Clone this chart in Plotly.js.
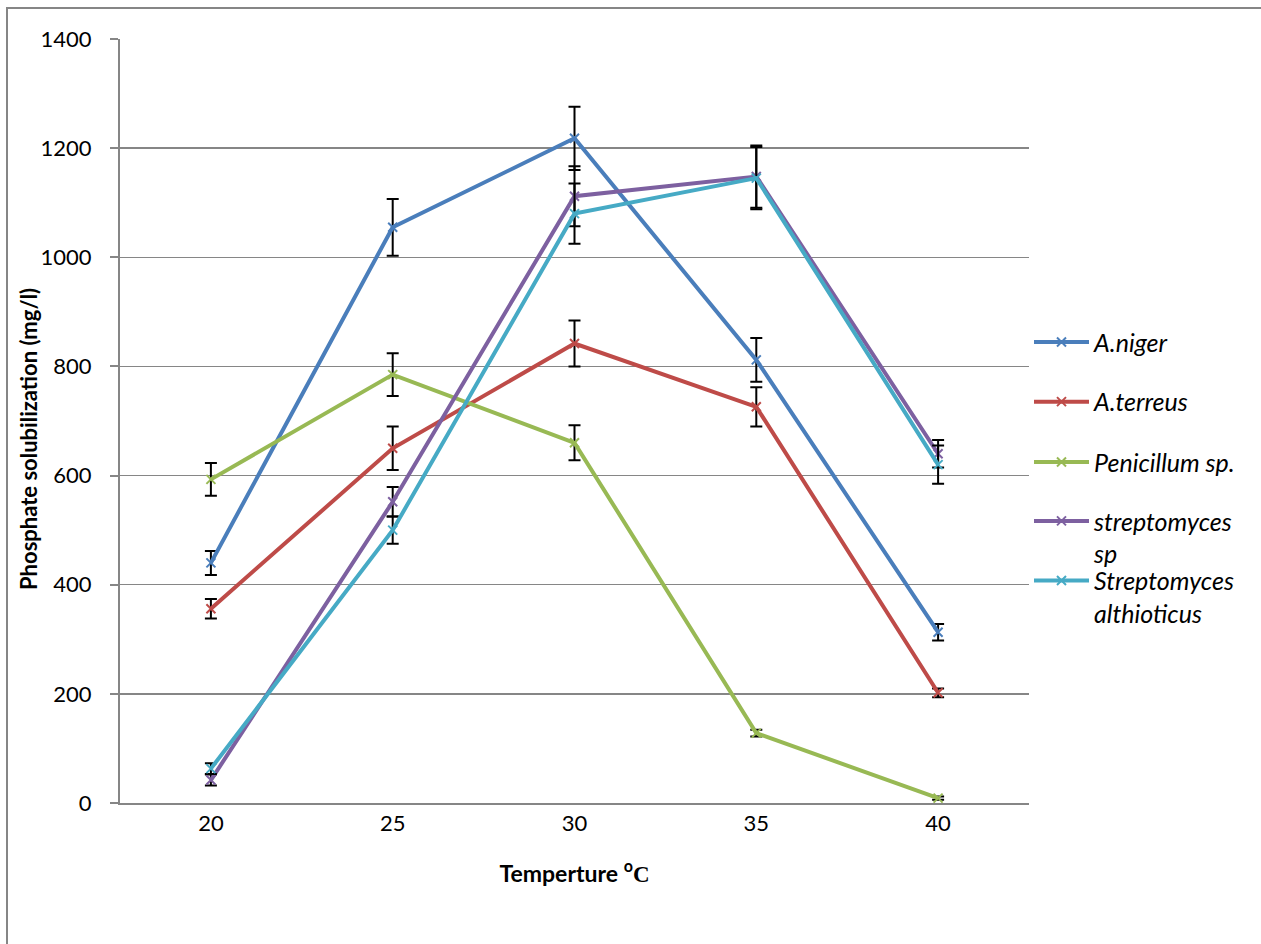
<!DOCTYPE html>
<html>
<head>
<meta charset="utf-8">
<script src="https://cdn.plot.ly/plotly-3.0.1.min.js"></script>
<style>
  html, body { margin: 0; padding: 0; background: #ffffff; }
  #chart { width: 1261px; height: 944px; }
</style>
</head>
<body>
<div id="chart"></div>
<script>
// Categories (temperature, °C)
const temperatures = ["20", "25", "30", "35", "40"];

// Series names
const seriesNames = ["A.niger", "A.terreus", "Penicillum sp.", "streptomyces<br>sp", "Streptomyces<br>althioticus"];

// Series values (mg/l)
const aniger      = [440, 1055, 1218, 812, 313];
const aterreus    = [356, 650, 842, 726, 202];
const penicillum  = [593, 785, 660, 128, 9];
const streptoSp   = [42, 552, 1112, 1148, 640];
const streptoAlth = [63, 500, 1080, 1145, 620];

// Error bar half-widths (mg/l)
const anigerErr      = [22, 52, 58, 40, 15];
const aterreusErr    = [18, 40, 42, 36, 8];
const penicillumErr  = [30, 39, 32, 6, 3];
const streptoSpErr   = [10, 27, 55, 57, 25];
const streptoAlthErr = [10, 25, 55, 57, 35];

// Y axis ticks
const yTicks = [0, 200, 400, 600, 800, 1000, 1200, 1400];

const colors = ["#4A7EBB", "#BE4B48", "#98B954", "#7D60A0", "#46AAC5"];
const values = [aniger, aterreus, penicillum, streptoSp, streptoAlth];
const errs = [anigerErr, aterreusErr, penicillumErr, streptoSpErr, streptoAlthErr];
const legendIds = ["legend", "legend2", "legend3", "legend4", "legend5"];
const legendY = [0.603, 0.525, 0.446, 0.348, 0.270];

const FONT = "Lato, 'Open Sans', sans-serif";

const traces = values.map((v, i) => ({
  type: "scatter",
  mode: "lines+markers",
  x: temperatures,
  y: v,
  name: seriesNames[i],
  legend: legendIds[i],
  line: { color: colors[i], width: 4 },
  marker: { symbol: "x-thin", size: 9, color: colors[i], line: { color: colors[i], width: 2 } },
  error_y: { type: "data", array: errs[i], visible: true, color: "#000000", thickness: 2, width: 6 }
}));

const layout = {
  width: 1261,
  height: 944,
  paper_bgcolor: "#ffffff",
  plot_bgcolor: "#ffffff",
  margin: { l: 120, r: 232, t: 39, b: 141, pad: 0 },
  font: { family: FONT, size: 22, color: "#000000" },
  showlegend: true,
  xaxis: {
    type: "category",
    range: [-0.5, 4.5],
    showline: true,
    linecolor: "#868686",
    linewidth: 2,
    showgrid: false,
    ticks: "",
    tickfont: { family: FONT, size: 22 },
    title: {
      text: "<b>Temperture <sup>o</sup><span style=\"font-family:'Liberation Serif'\">C</span></b>",
      font: { family: FONT, size: 23 },
      standoff: 30
    },
    fixedrange: true
  },
  yaxis: {
    range: [0, 1400],
    tickvals: yTicks,
    showline: true,
    linecolor: "#868686",
    linewidth: 2,
    showgrid: true,
    gridcolor: "#868686",
    gridwidth: 1.5,
    zeroline: false,
    ticks: "outside",
    ticklen: 8,
    tickcolor: "#868686",
    tickwidth: 2,
    ticklabelstandoff: 14,
    tickfont: { family: FONT, size: 22 },
    fixedrange: true
  },
  annotations: [{
    text: "<b>Phosphate solubilization (mg/l)</b>",
    xref: "paper", yref: "paper",
    x: (28 - 120) / 909, y: (803 - 439) / 764,
    xanchor: "center", yanchor: "middle",
    textangle: -90,
    showarrow: false,
    font: { family: FONT, size: 22, color: "#000000" }
  }],
  shapes: [{
    type: "rect", xref: "paper", yref: "paper",
    x0: (7 - 120) / 909, x1: (1275 - 120) / 909,
    y0: -(960 - 803) / 764, y1: 1 + (39 - 8) / 764,
    line: { color: "#868686", width: 2 },
    fillcolor: "rgba(0,0,0,0)",
    layer: "below"
  }]
};

legendIds.forEach((id, i) => {
  layout[id] = {
    x: 1.0, xanchor: "left",
    y: legendY[i], yanchor: "middle",
    valign: "top",
    itemwidth: 55,
    font: { family: FONT, size: 25, style: "italic", color: "#000000" },
    bgcolor: "rgba(0,0,0,0)",
    borderwidth: 0
  };
});

Plotly.newPlot("chart", traces, layout, { displayModeBar: false, staticPlot: true });
</script>
</body>
</html>
